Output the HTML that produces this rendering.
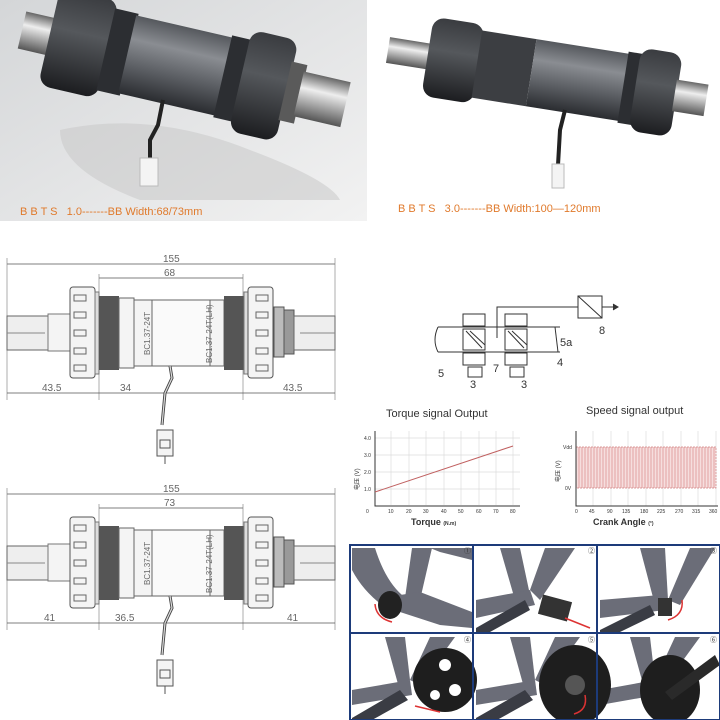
<!DOCTYPE html>
<html><head><meta charset="utf-8"><style>
html,body{margin:0;padding:0;background:#fff;width:720px;height:720px;overflow:hidden}
svg{display:block}
text{font-family:"Liberation Sans","Noto Sans CJK SC",sans-serif}
</style></head><body>
<svg width="720" height="720" viewBox="0 0 720 720" xmlns="http://www.w3.org/2000/svg">
<defs>
<linearGradient id="bg1" x1="0" y1="0" x2="1" y2="1"><stop offset="0" stop-color="#d4d6d8"/><stop offset="1" stop-color="#f2f2f2"/></linearGradient>
<linearGradient id="metal" x1="0" y1="0" x2="0" y2="1"><stop offset="0" stop-color="#55585d"/><stop offset=".3" stop-color="#8a8d92"/><stop offset=".65" stop-color="#5a5d62"/><stop offset="1" stop-color="#2a2c30"/></linearGradient>
<linearGradient id="nut" x1="0" y1="0" x2="0" y2="1"><stop offset="0" stop-color="#3a3c40"/><stop offset=".4" stop-color="#55585c"/><stop offset="1" stop-color="#1c1d20"/></linearGradient>
<linearGradient id="shaft" x1="0" y1="0" x2="0" y2="1"><stop offset="0" stop-color="#666"/><stop offset=".35" stop-color="#eee"/><stop offset="1" stop-color="#555"/></linearGradient>
<g id="bb">
 <line x1="7" y1="264" x2="335" y2="264" stroke="#555" stroke-width=".8"/>
 <line x1="7" y1="258" x2="7" y2="400" stroke="#777" stroke-width=".6"/>
 <line x1="335" y1="258" x2="335" y2="400" stroke="#777" stroke-width=".6"/>
 <line x1="99" y1="278" x2="243" y2="278" stroke="#555" stroke-width=".8"/>
 <line x1="99" y1="274" x2="99" y2="400" stroke="#777" stroke-width=".6"/>
 <line x1="243" y1="274" x2="243" y2="400" stroke="#777" stroke-width=".6"/>
 <line x1="7" y1="393" x2="335" y2="393" stroke="#555" stroke-width=".8"/>
 <rect x="7" y="316" width="45" height="34" fill="#eee" stroke="#666"/>
 <line x1="7" y1="333" x2="45" y2="333" stroke="#888"/>
 <rect x="48" y="314" width="22" height="37" fill="#f4f4f4" stroke="#777"/>
 <rect x="70" y="287" width="25" height="91" rx="3" fill="#f4f4f4" stroke="#555"/>
 <g stroke="#666" fill="none"><rect x="74" y="295" width="12" height="6"/><rect x="74" y="312" width="12" height="6"/><rect x="74" y="330" width="12" height="6"/><rect x="74" y="348" width="12" height="6"/><rect x="74" y="365" width="12" height="6"/></g>
 <rect x="95" y="292" width="4" height="82" fill="#ddd" stroke="#777"/>
 <rect x="99" y="296" width="20" height="74" fill="#555"/>
 <rect x="119" y="298" width="15" height="70" fill="#f4f4f4" stroke="#666"/>
 <rect x="134" y="300" width="18" height="66" fill="#f4f4f4" stroke="#666"/>
 <rect x="152" y="300" width="58" height="66" fill="#fafafa" stroke="#666"/>
 <rect x="210" y="300" width="14" height="66" fill="#f4f4f4" stroke="#666"/>
 <rect x="224" y="296" width="20" height="74" fill="#555"/>
 <rect x="244" y="292" width="4" height="82" fill="#ddd" stroke="#777"/>
 <rect x="248" y="287" width="25" height="91" rx="3" fill="#f4f4f4" stroke="#555"/>
 <g stroke="#666" fill="none"><rect x="256" y="295" width="12" height="6"/><rect x="256" y="312" width="12" height="6"/><rect x="256" y="330" width="12" height="6"/><rect x="256" y="348" width="12" height="6"/><rect x="256" y="365" width="12" height="6"/></g>
 <rect x="274" y="307" width="10" height="50" fill="#bbb" stroke="#555"/>
 <rect x="284" y="310" width="10" height="44" fill="#999" stroke="#555"/>
 <rect x="294" y="316" width="41" height="34" fill="#eee" stroke="#666"/>
 <line x1="300" y1="333" x2="335" y2="333" stroke="#888"/>
 <path d="M170 366 L172 378 L165 393 L162 425" stroke="#444" stroke-width="3" fill="none"/>
 <path d="M170 366 L172 378 L165 393 L162 425" stroke="#ddd" stroke-width="1.2" fill="none"/>
 <rect x="157" y="430" width="16" height="26" fill="#f4f4f4" stroke="#555"/>
 <rect x="160" y="440" width="10" height="8" fill="none" stroke="#555"/>
 <line x1="165" y1="456" x2="165" y2="464" stroke="#555"/>
</g>
</defs>

<!-- top left photo -->
<rect x="0" y="0" width="367" height="221" fill="url(#bg1)"/>
<path d="M60 130 Q150 110 250 150 Q330 180 340 200 L140 200 Q60 170 60 130Z" fill="#c9c9c9" opacity=".55"/>
<g transform="translate(22 30) rotate(13)">
 <rect x="0" y="-19" width="32" height="38" fill="url(#shaft)"/>
 <rect x="28" y="-50" width="60" height="100" rx="12" fill="url(#nut)"/>
 <rect x="86" y="-42" width="24" height="84" fill="#2c2e32"/>
 <rect x="108" y="-40" width="100" height="80" fill="url(#metal)"/>
 <rect x="206" y="-42" width="22" height="84" fill="#2c2e32"/>
 <rect x="224" y="-52" width="48" height="104" rx="12" fill="url(#nut)"/>
 <rect x="270" y="-30" width="16" height="60" fill="#5a5a5a"/>
 <rect x="284" y="-23" width="48" height="46" fill="url(#shaft)"/>
</g>
<path d="M163 100 L158 125 L150 140 L150 160" stroke="#222" stroke-width="4" fill="none"/>
<rect x="140" y="158" width="18" height="28" fill="#f4f4f4" stroke="#bbb"/>
<text x="20" y="215" font-size="11" fill="#e07a2c">B B T S &#160;&#160;1.0-------BB Width:68/73mm</text>

<!-- top right photo -->
<g transform="translate(388 50) rotate(9)">
 <rect x="0" y="-13" width="45" height="26" fill="url(#shaft)"/>
 <rect x="40" y="-40" width="52" height="80" rx="12" fill="url(#nut)"/>
 <rect x="90" y="-34" width="55" height="68" fill="#3c3e42"/>
 <rect x="145" y="-34" width="95" height="68" fill="url(#metal)"/>
 <rect x="238" y="-36" width="14" height="72" fill="#2c2e32"/>
 <rect x="250" y="-42" width="42" height="84" rx="12" fill="url(#nut)"/>
 <rect x="290" y="-16" width="32" height="32" fill="url(#shaft)"/>
</g>
<path d="M565 110 L560 130 L558 165" stroke="#222" stroke-width="4" fill="none"/>
<rect x="552" y="164" width="12" height="24" fill="#f4f4f4" stroke="#bbb"/>
<text x="398" y="212" font-size="11" fill="#e07a2c">B B T S &#160;&#160;3.0-------BB Width:100—120mm</text>

<!-- technical drawings -->
<use href="#bb"/>
<g font-size="10" fill="#666">
<text x="163" y="262">155</text><text x="164" y="276">68</text>
<text x="42" y="391">43.5</text><text x="120" y="391">34</text><text x="283" y="391">43.5</text>
<text transform="translate(150 355) rotate(-90)" font-size="8">BC1.37-24T</text>
<text transform="translate(212 363) rotate(-90)" font-size="8">BC1.37-24T(LH)</text>
</g>
<use href="#bb" transform="translate(0 230)"/>
<g font-size="10" fill="#666">
<text x="163" y="492">155</text><text x="164" y="506">73</text>
<text x="44" y="621">41</text><text x="115" y="621">36.5</text><text x="287" y="621">41</text>
<text transform="translate(150 585) rotate(-90)" font-size="8">BC1.37-24T</text>
<text transform="translate(212 593) rotate(-90)" font-size="8">BC1.37-24T(LH)</text>
</g>

<!-- sensor schematic -->
<g stroke="#333" stroke-width="1" fill="none">
 <rect x="578" y="296" width="24" height="22"/>
 <line x1="578" y1="296" x2="602" y2="318"/>
 <line x1="602" y1="307" x2="618" y2="307"/><path d="M613 304 L618 307 L613 310" fill="#333"/>
 <path d="M497 338 V307 H578"/>
 <line x1="438" y1="327" x2="560" y2="327"/><line x1="438" y1="352" x2="560" y2="352"/>
 <path d="M438 327 Q432 340 438 352"/>
 <rect x="463" y="314" width="22" height="12"/><rect x="463" y="353" width="22" height="12"/>
 <rect x="505" y="314" width="22" height="12"/><rect x="505" y="353" width="22" height="12"/>
 <rect x="463" y="329" width="22" height="21"/><rect x="505" y="329" width="22" height="21"/>
 <path d="M466 331 L482 348 M470 331 L485 345 M508 331 L524 348 M512 331 L527 345"/>
 <rect x="468" y="367" width="14" height="10"/><rect x="510" y="367" width="14" height="10"/>
 <line x1="555" y1="327" x2="558" y2="352"/>
</g>
<g font-size="11" fill="#333">
<text x="560" y="346">5a</text><text x="557" y="366">4</text><text x="599" y="334">8</text>
<text x="438" y="377">5</text><text x="470" y="388">3</text><text x="493" y="372">7</text><text x="521" y="388">3</text>
</g>

<!-- torque chart -->
<text x="386" y="417" font-size="11" fill="#333">Torque signal Output</text>
<g stroke="#ddd" stroke-width=".7">
<line x1="391" y1="431" x2="391" y2="505"/><line x1="409" y1="431" x2="409" y2="505"/><line x1="426" y1="431" x2="426" y2="505"/><line x1="444" y1="431" x2="444" y2="505"/><line x1="461" y1="431" x2="461" y2="505"/><line x1="479" y1="431" x2="479" y2="505"/><line x1="496" y1="431" x2="496" y2="505"/><line x1="513" y1="431" x2="513" y2="505"/>
<line x1="375" y1="438" x2="520" y2="438"/><line x1="375" y1="455" x2="520" y2="455"/><line x1="375" y1="472" x2="520" y2="472"/><line x1="375" y1="489" x2="520" y2="489"/>
</g>
<path d="M375 431 V506 H520" stroke="#333" fill="none"/>
<line x1="375" y1="492" x2="513" y2="446" stroke="#c06060" stroke-width="1"/>
<g font-size="5" fill="#333"><text x="364" y="440">4.0</text><text x="364" y="457">3.0</text><text x="364" y="474">2.0</text><text x="364" y="491">1.0</text>
<text x="366" y="513">0</text><text x="388" y="513">10</text><text x="406" y="513">20</text><text x="423" y="513">30</text><text x="441" y="513">40</text><text x="458" y="513">50</text><text x="476" y="513">60</text><text x="493" y="513">70</text><text x="510" y="513">80</text></g>
<text transform="translate(359 490) rotate(-90)" font-size="6" fill="#333">电压 (V)</text>
<text x="411" y="525" font-size="9" font-weight="bold" fill="#333">Torque <tspan font-size="5">(N.m)</tspan></text>

<!-- speed chart -->
<text x="586" y="414" font-size="11" fill="#333">Speed signal output</text>
<g stroke="#ddd" stroke-width=".7">
<line x1="593" y1="431" x2="593" y2="506"/><line x1="611" y1="431" x2="611" y2="506"/><line x1="628" y1="431" x2="628" y2="506"/><line x1="646" y1="431" x2="646" y2="506"/><line x1="663" y1="431" x2="663" y2="506"/><line x1="681" y1="431" x2="681" y2="506"/><line x1="698" y1="431" x2="698" y2="506"/><line x1="716" y1="431" x2="716" y2="506"/>
</g>
<rect x="576" y="447" width="140" height="41" fill="#f6dede" stroke="#d08080" stroke-dasharray="2 1" stroke-width=".7"/>
<g stroke="#d47a7a" stroke-width=".6">
<path d="M579 447v41M582 447v41M585 447v41M588 447v41M591 447v41M594 447v41M597 447v41M600 447v41M603 447v41M606 447v41M609 447v41M612 447v41M615 447v41M618 447v41M621 447v41M624 447v41M627 447v41M630 447v41M633 447v41M636 447v41M639 447v41M642 447v41M645 447v41M648 447v41M651 447v41M654 447v41M657 447v41M660 447v41M663 447v41M666 447v41M669 447v41M672 447v41M675 447v41M678 447v41M681 447v41M684 447v41M687 447v41M690 447v41M693 447v41M696 447v41M699 447v41M702 447v41M705 447v41M708 447v41M711 447v41M714 447v41"/>
</g>
<path d="M576 431 V506 H718" stroke="#333" fill="none"/>
<g font-size="5" fill="#333"><text x="563" y="449">Vdd</text><text x="565" y="490">0V</text>
<text x="575" y="513">0</text><text x="589" y="513">45</text><text x="607" y="513">90</text><text x="622" y="513">135</text><text x="640" y="513">180</text><text x="657" y="513">225</text><text x="675" y="513">270</text><text x="692" y="513">315</text><text x="709" y="513">360</text></g>
<text transform="translate(560 482) rotate(-90)" font-size="6" fill="#333">电压 (V)</text>
<text x="593" y="525" font-size="9" font-weight="bold" fill="#333">Crank Angle <tspan font-size="5">(°)</tspan></text>

<!-- assembly photos -->
<g>
<rect x="349" y="544" width="371" height="176" fill="#fff"/>
<g fill="#6b6d78">
 <!-- panel 1 -->
 <path d="M352 548 L375 548 Q385 580 402 595 L392 612 Q365 595 352 570 Z"/>
 <path d="M412 548 L432 548 L420 600 L405 598 Z"/>
 <path d="M400 595 L420 592 L472 612 L472 628 L440 625 L400 612 Z"/>
 <path d="M430 548 L472 548 L472 560 L440 552 Z"/>
 <!-- panel 2 -->
 <path d="M500 548 L520 548 L530 595 L515 600 Z"/>
 <path d="M545 548 L575 548 L540 600 L530 590 Z"/>
 <path d="M476 600 L530 590 L535 605 L476 618 Z"/>
 <path d="M476 628 L525 600 L530 610 L490 632 L476 632 Z" fill="#3a3c44"/>
 <!-- panel 3 -->
 <path d="M640 548 L665 548 L668 600 L655 605 Z"/>
 <path d="M690 548 L715 548 L680 605 L668 600 Z"/>
 <path d="M600 600 L660 595 L665 610 L600 618 Z"/>
 <path d="M600 630 L650 605 L655 615 L620 632 L600 632 Z" fill="#3a3c44"/>
 <!-- panels 4-6 -->
 <path d="M385 637 L405 637 L410 680 L398 684 Z"/><path d="M430 637 L455 637 L420 685 L410 680 Z"/>
 <path d="M352 690 L410 680 L412 695 L352 705 Z"/><path d="M352 718 L400 690 L408 700 L372 720 L352 720 Z" fill="#3a3c44"/>
 <path d="M510 637 L530 637 L535 680 L523 684 Z"/><path d="M555 637 L580 637 L545 685 L535 680 Z"/>
 <path d="M476 690 L535 680 L537 695 L476 705 Z"/><path d="M476 718 L525 690 L533 700 L497 720 L476 720 Z" fill="#3a3c44"/>
 <path d="M630 637 L650 637 L655 680 L643 684 Z"/><path d="M675 637 L700 637 L665 685 L655 680 Z"/>
 <path d="M600 690 L655 680 L657 695 L600 705 Z"/>
</g>
<ellipse cx="390" cy="605" rx="12" ry="14" fill="#222"/>
<rect x="540" y="598" width="30" height="20" fill="#333" transform="rotate(15 555 608)"/>
<rect x="658" y="598" width="14" height="18" fill="#333"/>
<circle cx="445" cy="680" r="32" fill="#1e1e1e"/><circle cx="445" cy="665" r="6" fill="#fff"/><circle cx="455" cy="690" r="6" fill="#fff"/><circle cx="435" cy="695" r="5" fill="#fff"/>
<ellipse cx="575" cy="685" rx="36" ry="40" fill="#1e1e1e"/><circle cx="575" cy="685" r="10" fill="#555"/>
<ellipse cx="670" cy="690" rx="30" ry="35" fill="#1e1e1e"/>
<path d="M665 692 L715 655 L720 665 L672 700 Z" fill="#2a2a2a"/>
<g stroke="#d33" stroke-width="1.5" fill="none"><path d="M375 604 Q376 618 392 622"/><line x1="565" y1="618" x2="590" y2="628"/><path d="M682 600 Q684 615 668 620"/><line x1="440" y1="712" x2="415" y2="706"/><path d="M585 695 Q588 710 574 714"/></g>
<g stroke="#1d3b7a" stroke-width="2" fill="none">
 <rect x="350" y="545" width="370" height="175"/>
 <line x1="473" y1="545" x2="473" y2="720"/><line x1="597" y1="545" x2="597" y2="720"/>
 <line x1="350" y1="633" x2="720" y2="633"/>
</g>
<g font-size="7" fill="#333"><text x="464" y="553">①</text><text x="588" y="553">②</text><text x="710" y="553">③</text><text x="464" y="642">④</text><text x="588" y="642">⑤</text><text x="710" y="642">⑥</text></g>
</g>
</svg>
</body></html>
